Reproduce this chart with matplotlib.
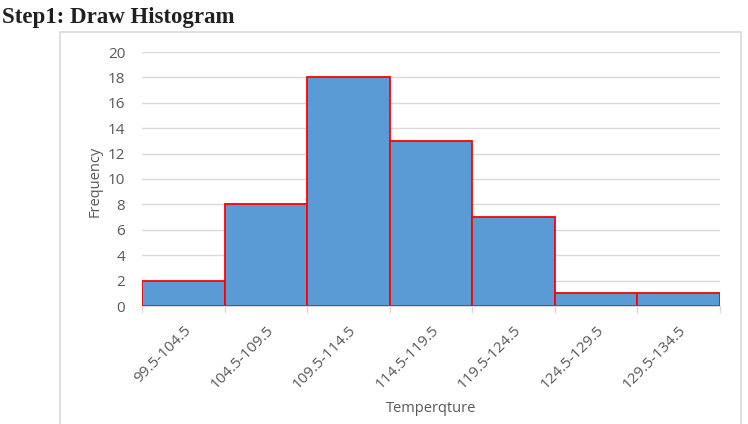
import matplotlib.pyplot as plt
from matplotlib.patches import Rectangle
import matplotlib.transforms as mtransforms
import numpy as np

# Histogram data
bin_labels = ["99.5-104.5", "104.5-109.5", "109.5-114.5", "114.5-119.5",
              "119.5-124.5", "124.5-129.5", "129.5-134.5"]
frequencies = [2, 8, 18, 13, 7, 1, 1]
y_ticks = [0, 2, 4, 6, 8, 10, 12, 14, 16, 18, 20]

W, H = 748, 424
fig = plt.figure(figsize=(W / 100, H / 100), dpi=100)

# outer chart frame (Excel-style)
fig.patches.append(Rectangle((60 / W, -0.02), (741 - 60) / W, (H - 32) / H + 0.02,
                             transform=fig.transFigure, fill=False,
                             edgecolor="#d9d9d9", linewidth=1.2))

fig.text(2 / W, 1 - 18 / H, "Step1: Draw Histogram", family="Liberation Serif",
         fontweight="bold", fontsize=16.5, color="#231f20", va="center", ha="left")

ax = fig.add_axes([142 / W, 1 - 306 / H, (720 - 142) / W, (306 - 52) / H])

x = np.arange(len(frequencies))
ax.bar(x, frequencies, width=1.0, align="edge", color="#5b9bd5",
       edgecolor="#ff0000", linewidth=1.3, zorder=3)

ax.set_xlim(0, len(frequencies))
ax.set_ylim(0, 20)
ax.set_yticks(y_ticks)
ax.yaxis.grid(True, color="#d9d9d9", linewidth=1)
ax.set_axisbelow(True)

for s in ["top", "right", "left"]:
    ax.spines[s].set_visible(False)
ax.spines["bottom"].set_color("#d9d9d9")
ax.spines["bottom"].set_zorder(4)

ax.set_xticks(np.arange(len(frequencies) + 1))
ax.set_xticklabels([])
ax.set_xticks(x + 0.5, minor=True)
ax.set_xticklabels(bin_labels, minor=True, rotation=45, ha="right",
                   rotation_mode="anchor", fontsize=11, color="#595959",
                   family="Open Sans")
shift = mtransforms.ScaledTranslation(6 / 100, 0, fig.dpi_scale_trans)
for lbl in ax.get_xticklabels(minor=True):
    lbl.set_transform(lbl.get_transform() + shift)
ax.tick_params(axis="x", which="major", length=5, color="#d9d9d9", width=1)
ax.tick_params(axis="x", which="minor", length=0, pad=12)
ax.tick_params(axis="y", length=0, pad=12, labelsize=11, labelcolor="#595959")
for lbl in ax.get_yticklabels():
    lbl.set_family("Open Sans")

fig.text(95 / W, 1 - 181 / H, "Frequency", rotation=90, fontsize=10.5,
         color="#595959", family="Open Sans", ha="center", va="center")
fig.text(431 / W, 1 - 408 / H, "Temperqture", fontsize=10.5,
         color="#595959", family="Open Sans", ha="center", va="center")

fig.savefig("out.png", dpi=100)
